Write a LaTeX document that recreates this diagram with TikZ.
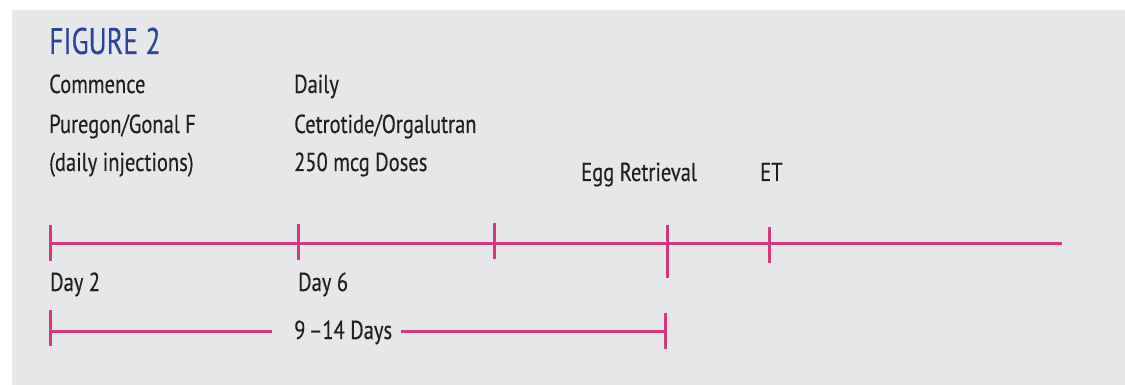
\documentclass[tikz,border=0pt]{standalone}
\usepackage{fontspec}
\setmainfont{PT Sans}[FakeStretch=0.79, FakeBold=0.35]
\newfontfamily\titlefont{PT Sans}[FakeStretch=0.75, FakeBold=0.3]
\definecolor{bgrey}{HTML}{E6E7E9}
\definecolor{tpink}{HTML}{D6387F}
\definecolor{tblue}{HTML}{2B4496}
\definecolor{tdark}{HTML}{231F20}
\tikzset{
  tline/.style={draw=tpink, line width=3pt},
  lbl/.style={anchor=base west, inner sep=0pt, text=tdark, font=\fontsize{26}{26}\selectfont},
  ttl/.style={anchor=base west, inner sep=0pt, text=tblue, font=\titlefont\fontsize{37}{37}\selectfont},
}
\begin{document}
\begin{tikzpicture}[x=1pt,y=-1pt]
\useasboundingbox (0,0) rectangle (1125,385);
\fill[white] (0,0) rectangle (1125,385);
\fill[bgrey] (12,10) rectangle (1125,385);
% title
\node[ttl] (title) at (49,54) {FIGURE 2};
% column 1
\node[lbl] (c1a) at (49,93) {Commence};
\node[lbl] (c1b) at (49,133) {Puregon/Gonal F};
\node[lbl] (c1c) at (49,171) {(daily injections)};
% column 2
\node[lbl] (c2a) at (294,93) {Daily};
\node[lbl] (c2b) at (294,133) {Cetrotide/Orgalutran};
\node[lbl] (c2c) at (294,171) {250 mcg Doses};
% events
\node[lbl] (egg) at (581,181) {Egg Retrieval};
\node[lbl] (et) at (760,181) {ET};
% main timeline
\coordinate (m0) at (50,243);
\coordinate (mend) at (1062,243);
\draw[tline] (m0) -- (mend);
\coordinate (t1a) at (50,225); \coordinate (t1b) at (50,261);
\coordinate (t2a) at (298,224); \coordinate (t2b) at (298,260);
\coordinate (t3a) at (494,223); \coordinate (t3b) at (494,259);
\coordinate (t4a) at (667,225); \coordinate (t4b) at (667,278);
\coordinate (t5a) at (769,227); \coordinate (t5b) at (769,263);
\draw[tline] (t1a) -- (t1b);
\draw[tline] (t2a) -- (t2b);
\draw[tline] (t3a) -- (t3b);
\draw[tline] (t4a) -- (t4b);
\draw[tline] (t5a) -- (t5b);
% day labels
\node[lbl] (d2) at (50,291) {Day 2};
\node[lbl] (d6) at (298,291) {Day 6};
% duration bar
\node[lbl] (dur) at (294,339) {9\hspace{-2pt} –14 Days};
\coordinate (b0a) at (50,310); \coordinate (b0b) at (50,346);
\coordinate (b1a) at (665,313); \coordinate (b1b) at (665,349);
\coordinate (bl) at (50,331);
\coordinate (br) at (665,331);
\draw[tline] (b0a) -- (b0b);
\draw[tline] (b1a) -- (b1b);
\draw[tline] (bl) -- ([xshift=-22pt]bl -| dur.west);
\draw[tline] ([xshift=9pt]br -| dur.east) -- (br);
\end{tikzpicture}
\end{document}
